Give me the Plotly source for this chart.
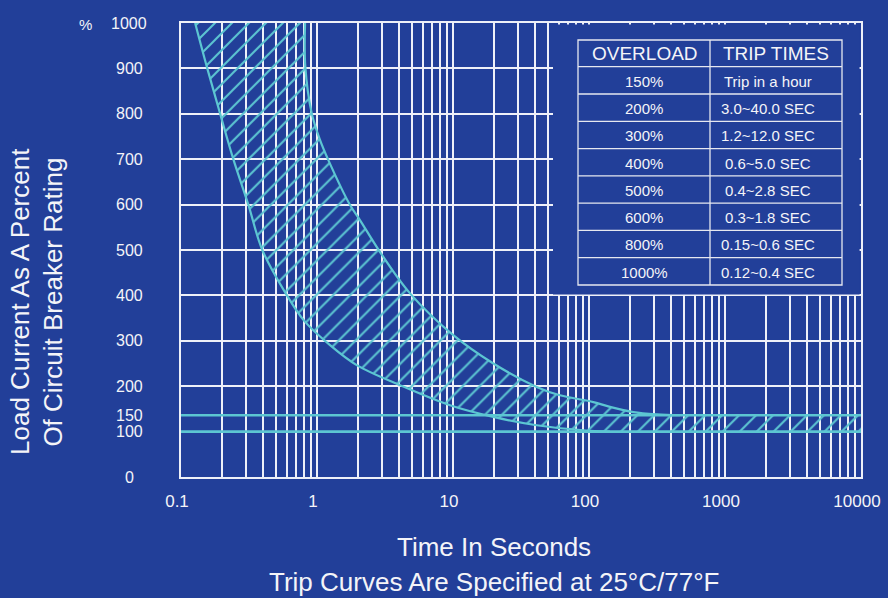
import plotly.graph_objects as go

# ---------------- data ----------------
# left (minimum trip time) boundary of the trip band: time in s, load in %
left_t = [0.127, 0.156, 0.194, 0.2425, 0.3126, 0.396, 0.59, 0.8, 1.246, 1.96, 4.08, 9.5, 19.8, 41.2, 90.8, 142.6]
left_v = [1000, 900, 800, 700, 600, 500, 404, 345, 290.5, 246.4, 202.2, 158, 132.3, 114, 103, 100]

# right (maximum trip time) boundary of the trip band
right_t = [0.817, 0.82, 0.914, 1.052, 1.21, 1.75, 2.07, 2.90, 4.83, 10.05, 19.8, 41.2, 61.2, 107.6, 142.6, 212, 315, 467]
right_v = [1000, 905, 801.5, 742.6, 698.5, 599, 566, 496, 404.5, 312.5, 250, 198.5, 180, 165, 154.4, 143, 138, 136]

# horizontal reference lines (the "150" line sits at ~136 on the drawn scale)
ref_level_values = [100, 136]

x_range = [0.1, 10000]
x_decades = [0.1, 1, 10, 100, 1000, 10000]
x_decade_labels = ["0.1", "1", "10", "100", "1000", "10000"]

y_grid_vals = [0, 100, 200, 300, 400, 500, 600, 700, 800, 900, 1000]
y_label_vals = [0, 100, 136, 200, 300, 400, 500, 600, 700, 800, 900, 1000]
y_label_text = ["0", "100", "150", "200", "300", "400", "500", "600", "700", "800", "900", "1000"]

table_header = ["OVERLOAD", "TRIP TIMES"]
overload = ["150%", "200%", "300%", "400%", "500%", "600%", "800%", "1000%"]
trip_times = ["Trip in a hour", "3.0~40.0 SEC", "1.2~12.0 SEC", "0.6~5.0 SEC",
              "0.4~2.8 SEC", "0.3~1.8 SEC", "0.15~0.6 SEC", "0.12~0.4 SEC"]

# ---------------- styling ----------------
BG = "#223f99"
CYAN = "#5cc6d2"
GRID = "#eef0f8"
TXT = "#f4f4f8"
FONT = "Liberation Sans, Arial, sans-serif"

W, H = 888, 598
ML, MR, MT, MB = 181, 27, 23, 121
PW, PH = W - ML - MR, H - MT - MB


def px_x(px):
    return (px - ML) / PW


def px_y(py):
    return (H - MB - py) / PH


fig = go.Figure()

# hatched band
band_x = left_t + [x_range[1], x_range[1]] + right_t[::-1]
band_y = left_v + [ref_level_values[0], ref_level_values[1]] + right_v[::-1]
fig.add_trace(go.Scatter(
    x=band_x, y=band_y, mode="none", fill="toself",
    fillcolor="rgba(0,0,0,0)",
    fillpattern=dict(shape="/", fgcolor=CYAN, bgcolor="rgba(0,0,0,0)", size=12, solidity=0.17,
                     fgopacity=1),
    hoverinfo="skip", showlegend=False))

# boundary curves
for tx, vy in [(left_t, left_v), (right_t, right_v)]:
    fig.add_trace(go.Scatter(x=tx, y=vy, mode="lines",
                             line=dict(color=CYAN, width=2.2, shape="spline", smoothing=1),
                             hoverinfo="skip", showlegend=False))

# reference lines
for lv in ref_level_values:
    fig.add_trace(go.Scatter(x=x_range, y=[lv, lv], mode="lines",
                             line=dict(color=CYAN, width=2.6),
                             hoverinfo="skip", showlegend=False))

# log x ticks/grid at every 1..9 multiple
x_tickvals, x_ticktext = [], []
for i, d in enumerate(x_decades[:-1]):
    for m in range(1, 10):
        x_tickvals.append(m * d)
        x_ticktext.append(x_decade_labels[i] if m == 1 else "")
x_tickvals.append(x_decades[-1])
x_ticktext.append(x_decade_labels[-1])

fig.update_xaxes(type="log", range=[-1, 4], tickvals=x_tickvals, ticktext=x_ticktext,
                 showgrid=True, gridcolor=GRID, gridwidth=1.6, zeroline=False,
                 showline=True, linecolor=GRID, linewidth=2, mirror=True, ticks="",
                 tickfont=dict(family=FONT, size=17, color=TXT), ticklabelstandoff=8,
                 ticklabelshift=-4, automargin=False)
fig.update_yaxes(range=[0, 1000], tickvals=y_grid_vals, showticklabels=False,
                 showgrid=True, gridcolor=GRID, gridwidth=1.6, zeroline=False,
                 showline=True, linecolor=GRID, linewidth=2, mirror=True, ticks="",
                 automargin=False)

shapes = []
annotations = []

# blank area behind the table
shapes.append(dict(type="rect", xref="paper", yref="paper", layer="above",
                   x0=px_x(553), x1=px_x(859.6), y0=px_y(294.4), y1=px_y(24.6),
                   fillcolor=BG, line=dict(width=0)))

# table
tl, tr, tt, tb = 578, 842, 40, 285
col_split = 710
head_b = 66.7
row_h = (tb - head_b) / len(overload)
line_style = dict(color="#e6e8f0", width=1.3)
shapes.append(dict(type="rect", xref="paper", yref="paper", layer="above",
                   x0=px_x(tl), x1=px_x(tr), y0=px_y(tb), y1=px_y(tt), line=line_style))
shapes.append(dict(type="line", xref="paper", yref="paper", layer="above",
                   x0=px_x(col_split), x1=px_x(col_split), y0=px_y(tb), y1=px_y(tt), line=line_style))
for i in range(len(overload)):
    yy = head_b + i * row_h
    shapes.append(dict(type="line", xref="paper", yref="paper", layer="above",
                       x0=px_x(tl), x1=px_x(tr), y0=px_y(yy), y1=px_y(yy), line=line_style))

annotations.append(dict(text=table_header[0], xref="paper", yref="paper", x=px_x(645), y=px_y((tt + head_b) / 2),
                        showarrow=False, xanchor="center", yanchor="middle",
                        font=dict(family=FONT, size=19, color=TXT)))
annotations.append(dict(text=table_header[1], xref="paper", yref="paper", x=px_x(776), y=px_y((tt + head_b) / 2),
                        showarrow=False, xanchor="center", yanchor="middle",
                        font=dict(family=FONT, size=19, color=TXT)))
for i, (ov, tm) in enumerate(zip(overload, trip_times)):
    cy = head_b + (i + 0.5) * row_h + 0.8
    annotations.append(dict(text=ov, xref="paper", yref="paper", x=px_x(644), y=px_y(cy),
                            showarrow=False, xanchor="center", yanchor="middle",
                            font=dict(family=FONT, size=15, color=TXT)))
    annotations.append(dict(text=tm, xref="paper", yref="paper", x=px_x(768), y=px_y(cy),
                            showarrow=False, xanchor="center", yanchor="middle",
                            font=dict(family=FONT, size=15, color=TXT)))

# y tick labels
for v, t in zip(y_label_vals, y_label_text):
    annotations.append(dict(text=t, xref="paper", yref="y", x=px_x(129), y=v,
                            showarrow=False, xanchor="center", yanchor="middle", borderpad=0,
                            font=dict(family=FONT, size=16, color=TXT)))
annotations.append(dict(text="%", xref="paper", yref="paper", x=px_x(85), y=px_y(24),
                        showarrow=False, xanchor="center", yanchor="middle",
                        font=dict(family=FONT, size=15, color=TXT)))

# axis titles
annotations.append(dict(text="Time In Seconds", xref="paper", yref="paper", x=px_x(494), y=px_y(546.7),
                        showarrow=False, xanchor="center", yanchor="middle",
                        font=dict(family=FONT, size=26, color=TXT)))
annotations.append(dict(text="Trip Curves Are Specified at 25°C/77°F", xref="paper", yref="paper",
                        x=px_x(494), y=px_y(598), showarrow=False, xanchor="center", yanchor="bottom",
                        borderpad=0,
                        font=dict(family=FONT, size=26, color=TXT)))
annotations.append(dict(text="Load Current As A Percent", xref="paper", yref="paper", x=px_x(20), y=px_y(302),
                        showarrow=False, xanchor="center", yanchor="middle", textangle=-90,
                        font=dict(family=FONT, size=26, color=TXT)))
annotations.append(dict(text="Of Circuit Breaker Rating", xref="paper", yref="paper", x=px_x(52.6), y=px_y(302),
                        showarrow=False, xanchor="center", yanchor="middle", textangle=-90,
                        font=dict(family=FONT, size=26, color=TXT)))

fig.update_layout(width=W, height=H, margin=dict(l=ML, r=MR, t=MT, b=MB, autoexpand=False),
                  paper_bgcolor=BG, plot_bgcolor=BG, showlegend=False,
                  shapes=shapes, annotations=annotations,
                  font=dict(family=FONT, color=TXT))

fig.write_html("out.html", config={"displayModeBar": False, "responsive": False},
               post_script="document.body.style.margin='0';")
